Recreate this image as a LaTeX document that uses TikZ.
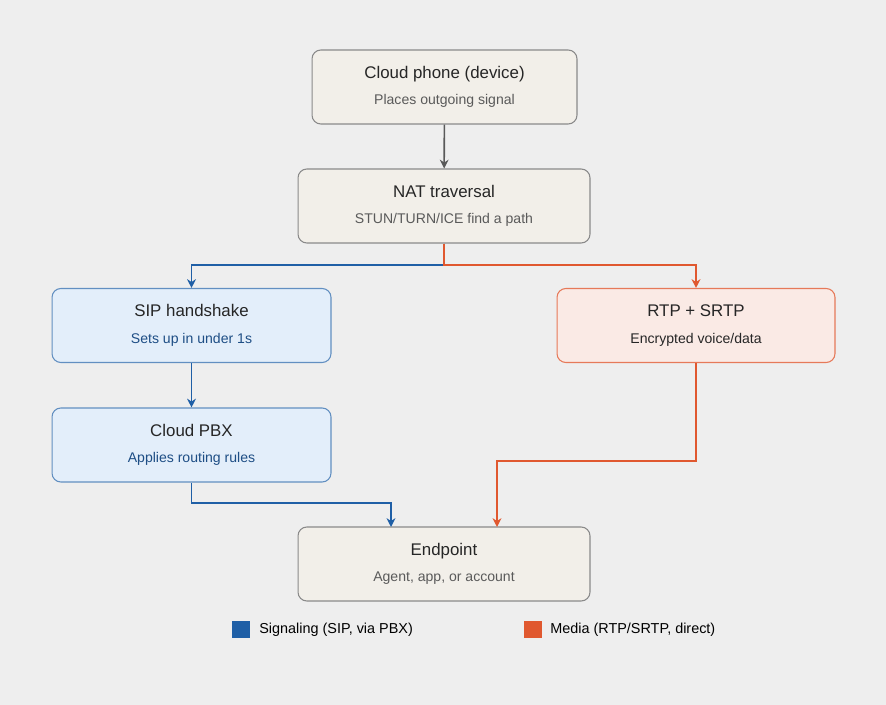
\documentclass[tikz,border=0pt]{standalone}
\usepackage{fontspec}
\setmainfont{Liberation Sans}
\usetikzlibrary{arrows.meta}
\definecolor{bgcol}{HTML}{EEEEEE}
\definecolor{neutfill}{HTML}{F2EFE9}
\definecolor{neutline}{HTML}{8A8A8A}
\definecolor{bluefill}{HTML}{E3EEFA}
\definecolor{blueline}{HTML}{1F5FA6}
\definecolor{bluetext}{HTML}{1E4E85}
\definecolor{orfill}{HTML}{FAEAE5}
\definecolor{orline}{HTML}{E0582F}
\definecolor{graytext}{HTML}{5A5A5A}
\newcommand{\ttlf}{\fontsize{9.6}{12}\selectfont}
\newcommand{\subf}{\fontsize{8}{10}\selectfont}
\tikzset{
  box/.style={draw=neutline, fill=neutfill, rounded corners=5pt, line width=0.6pt,
    minimum height=1.48cm, align=center, inner sep=0pt},
  neut/.style={box, text=black!85},
  blu/.style={box, draw=blueline!70, fill=bluefill, text=black!85},
  ora/.style={box, draw=orline!80, fill=orfill, text=black!85},
  garrow/.style={draw=black!65, line width=0.9pt, -{Stealth[length=5pt,width=5pt]}},
  barrow/.style={draw=blueline, line width=0.9pt, -{Stealth[length=5pt,width=5pt]}},
  oarrow/.style={draw=orline, line width=0.9pt, -{Stealth[length=5pt,width=5pt]}},
  legtext/.style={anchor=west, font=\fontsize{8.2}{10}\selectfont, inner sep=0pt},
}
\begin{document}
\begin{tikzpicture}[x=0.02cm, y=-0.02cm]
  \fill[bgcol] (0,0) rectangle (886,705);
  \useasboundingbox (0,0) rectangle (886,705);

  \node[neut, minimum width=5.3cm] (phone) at (444.5,87)
    {{\ttlf Cloud phone (device)}\\[3pt]{\subf\color{graytext} Places outgoing signal}};
  \node[neut, minimum width=5.84cm] (nat) at (444,206)
    {{\ttlf NAT traversal}\\[3pt]{\subf\color{graytext} STUN/TURN/ICE find a path}};
  \node[blu, minimum width=5.58cm] (sip) at (191.5,325.5)
    {{\ttlf SIP handshake}\\[3pt]{\subf\color{bluetext} Sets up in under 1s}};
  \node[ora, minimum width=5.56cm] (rtp) at (696,325.5)
    {{\ttlf RTP + SRTP}\\[3pt]{\subf Encrypted voice/data}};
  \node[blu, minimum width=5.58cm] (pbx) at (191.5,445)
    {{\ttlf Cloud PBX}\\[3pt]{\subf\color{bluetext} Applies routing rules}};
  \node[neut, minimum width=5.84cm] (end) at (444,564)
    {{\ttlf Endpoint}\\[3pt]{\subf\color{graytext} Agent, app, or account}};

  \coordinate (split) at (444,265);
  \coordinate (sigin) at (391,527);
  \coordinate (medin) at (497,527);
  \draw[garrow] (phone) -- (nat);
  \draw[barrow] (nat.south) -- (split) -| (sip.north);
  \draw[oarrow] (nat.south) -- (split) -| (rtp.north);
  \draw[barrow] (sip) -- (pbx);
  \draw[barrow] (pbx.south) |- (391,503) -- (sigin);
  \draw[oarrow] (rtp.south) |- (497,461) -- (medin);

  % legend
  \node[fill=blueline, minimum size=0.36cm, inner sep=0pt] (lgsig) at (241,629.5) {};
  \node[legtext] (lgsigt) at (259,629.5) {Signaling (SIP, via PBX)};
  \node[fill=orline, minimum size=0.36cm, inner sep=0pt] (lgmed) at (532.5,629.5) {};
  \node[legtext] (lgmedt) at (550,629.5) {Media (RTP/SRTP, direct)};
\end{tikzpicture}
\end{document}
